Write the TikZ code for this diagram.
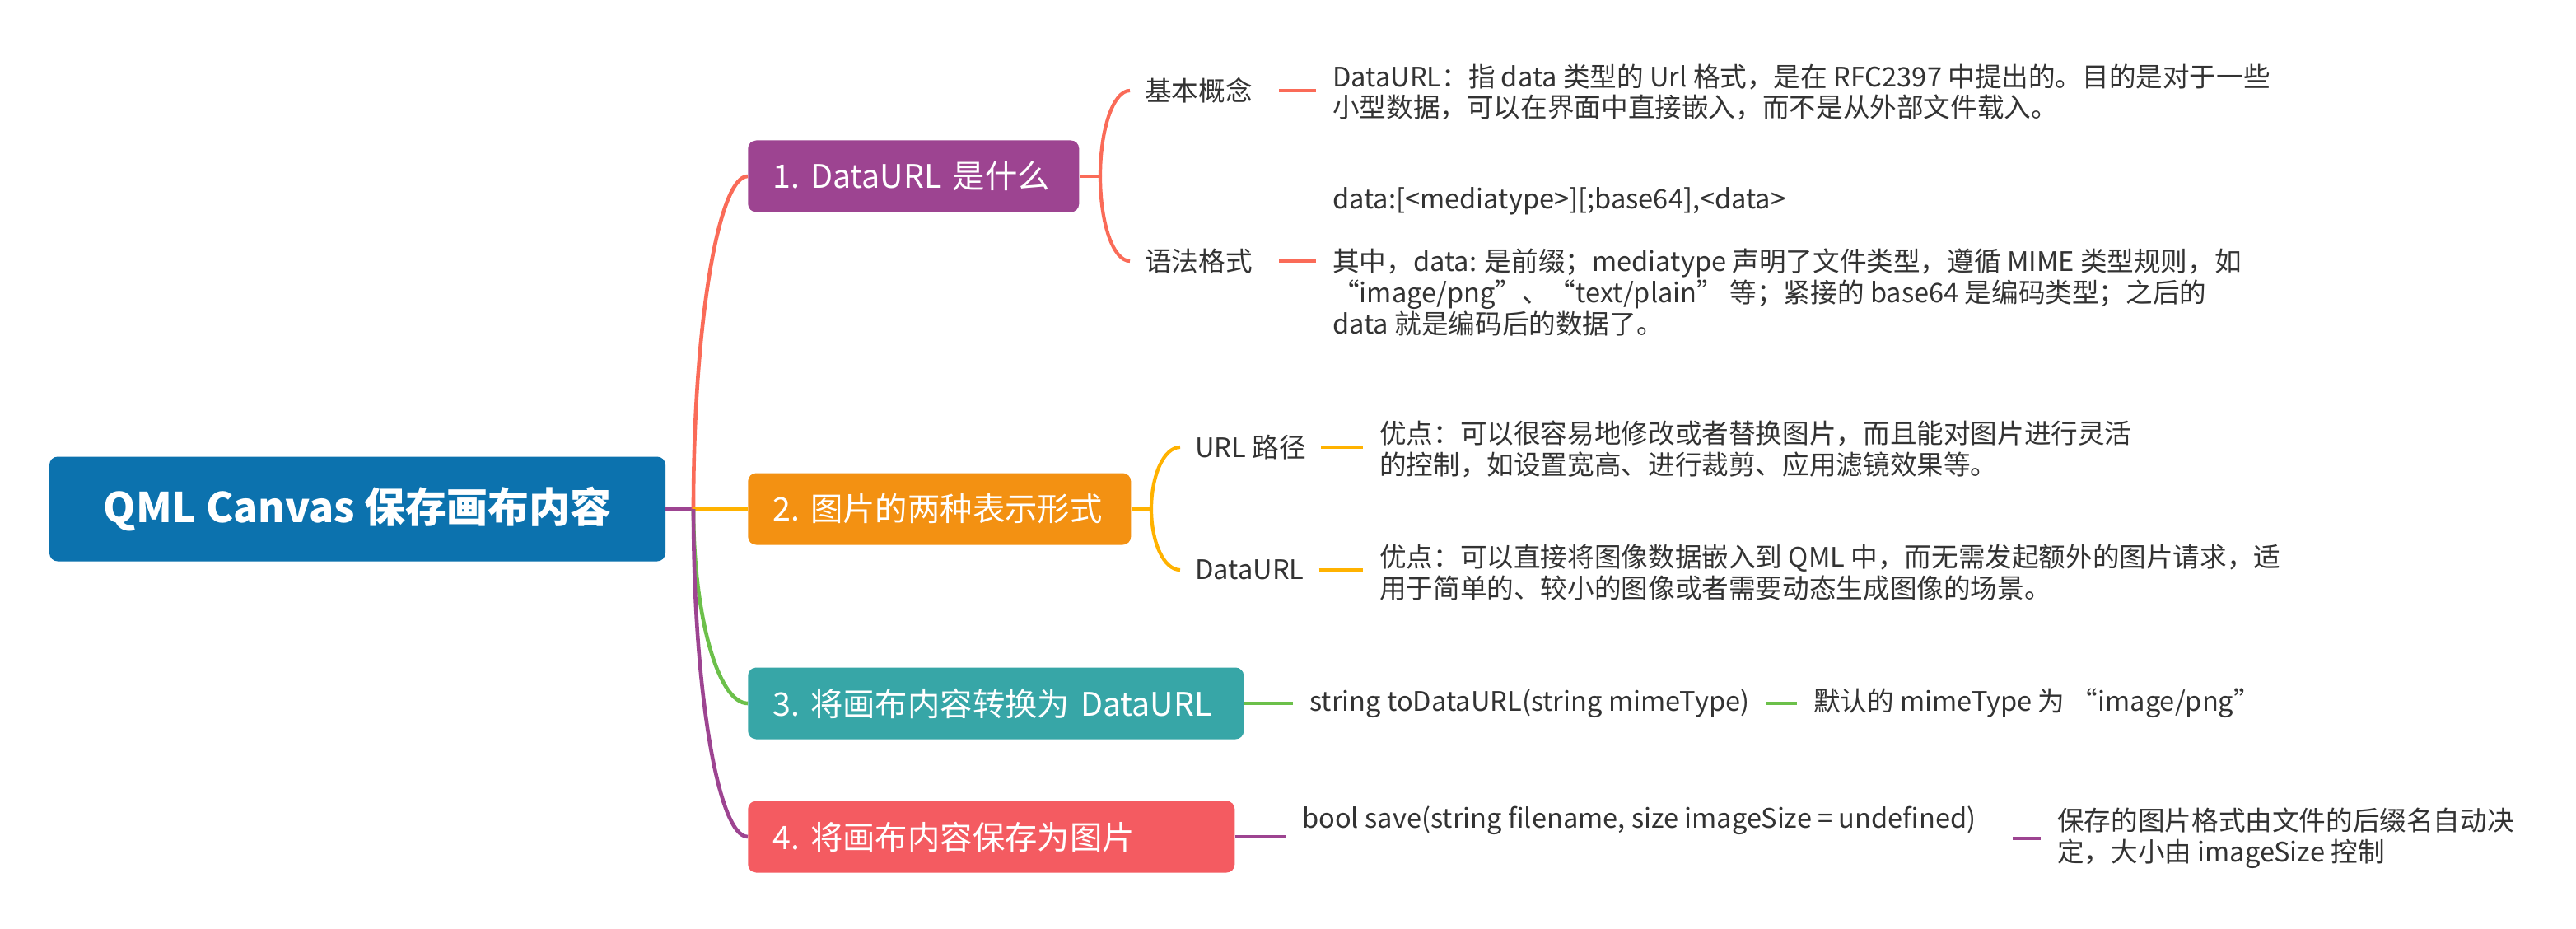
\documentclass[tikz,border=0pt]{standalone}
\usepackage{fontspec}
\setmainfont{Noto Sans CJK SC}
\usetikzlibrary{calc}

\definecolor{rootblue}{HTML}{0C72AE}
\definecolor{plum}{HTML}{9D4491}
\definecolor{amber}{HTML}{F39112}
\definecolor{tealbox}{HTML}{37A6A7}
\definecolor{rosered}{HTML}{F45B61}
\definecolor{coral}{HTML}{FA6B58}
\definecolor{gold}{HTML}{FFB200}
\definecolor{leafgreen}{HTML}{6CC04A}
\definecolor{ink}{HTML}{333333}

\begin{document}
\begin{tikzpicture}[
  x=0.5mm, y=-0.5mm,
  rootbox/.style={fill=rootblue, rounded corners=2.5mm, text=white, minimum width=187mm, minimum height=31.75mm, font=\fontsize{35.5}{42}\selectfont\bfseries},
  topic/.style={rounded corners=2.5mm, text=white, anchor=west, align=left, inner xsep=7.5mm, inner ysep=0pt, minimum height=21.75mm, font=\fontsize{28}{33}\selectfont},
  subtopic/.style={anchor=west, inner xsep=4.5mm, inner ysep=0pt, text=ink, font=\fontsize{23.2}{27}\selectfont},
  leaf/.style={subtopic, inner xsep=5mm, align=left},
  wire/.style={line width=1.15mm},
  twig/.style={line width=1.05mm}
]
\path[use as bounding box, fill=white] (0,0) rectangle (1564,564);

% root and the four main topics
\node[rootbox] (root) at (217,309) {QML Canvas 保存画布内容};
\node[topic, fill=plum, text width=85.5mm] (b1) at (454,107) {1.~DataURL~是什么};
\node[topic, fill=amber, text width=101.25mm] (b2) at (454,309) {2.~图片的两种表示形式};
\node[topic, fill=tealbox, text width=135.5mm] (b3) at (454,427) {3.~将画布内容转换为~DataURL};
\node[topic, fill=rosered, text width=132.75mm] (b4) at (454,508) {4.~将画布内容保存为图片};

\coordinate (hub) at (421,309);
\draw[wire, plum] (root.east) -- (hub);
\draw[wire, coral] (hub) .. controls +(0,-111) and +(-18,0) .. (b1.west);
\draw[wire, gold] (hub) -- (b2.west);
\draw[wire, leafgreen] (hub) .. controls +(0,65) and +(-18,0) .. (b3.west);
\draw[wire, plum] (hub) .. controls +(0,110) and +(-18,0) .. (b4.west);

% 1. DataURL
\coordinate (j1) at (668,107);
\node[subtopic] (k1a) at (686,55) {基本概念};
\node[subtopic] (k1b) at (686,158.5) {语法格式};
\node[leaf] (l1a) at (799,56) {DataURL：指 data 类型的 Url 格式，是在 RFC2397 中提出的。目的是对于一些\\小型数据，可以在界面中直接嵌入，而不是从外部文件载入。};
\node[leaf] (l1b) at (799,159) {data:[<mediatype>][;base64],<data>\\[9.5mm]其中，data: 是前缀；mediatype 声明了文件类型，遵循 MIME 类型规则，如\\“image/png”、“text/plain” 等；紧接的 base64 是编码类型；之后的\\data 就是编码后的数据了。};
\draw[twig, coral] (b1.east) -- (j1);
\draw[twig, coral] (j1) .. controls +(0,-29) and +(-10,0) .. (k1a.west);
\draw[twig, coral] (j1) .. controls +(0,29) and +(-10,0) .. (k1b.west);
\draw[twig, coral, shorten <=3.5mm] (k1a.east) -- (k1a.east -| l1a.west);
\draw[twig, coral, shorten <=3.5mm] (k1b.east) -- (k1b.east -| l1b.west);

% 2. two forms
\coordinate (j2) at (699,309);
\node[subtopic] (k2a) at (716.5,271.5) {URL 路径};
\node[subtopic] (k2b) at (716.5,346) {DataURL};
\node[leaf] (l2a) at (827.5,272.5) {优点：可以很容易地修改或者替换图片，而且能对图片进行灵活\\的控制，如设置宽高、进行裁剪、应用滤镜效果等。};
\node[leaf] (l2b) at (827.5,347.5) {优点：可以直接将图像数据嵌入到 QML 中，而无需发起额外的图片请求，适\\用于简单的、较小的图像或者需要动态生成图像的场景。};
\draw[twig, gold] (b2.east) -- (j2);
\draw[twig, gold] (j2) .. controls +(0,-20) and +(-10,0) .. (k2a.west);
\draw[twig, gold] (j2) .. controls +(0,20) and +(-10,0) .. (k2b.west);
\draw[twig, gold] (k2a.east) -- (k2a.east -| l2a.west);
\draw[twig, gold] (k2b.east) -- (k2b.east -| l2b.west);

% 3. toDataURL
\node[leaf] (c3) at (785,427) {string toDataURL(string mimeType)};
\node[leaf] (n3) at (1091,427) {默认的 mimeType 为 “image/png”};
\draw[twig, leafgreen] (b3.east) -- (c3.west);
\draw[twig, leafgreen] (c3.east) -- (n3.west);

% 4. save
\node[leaf] (c4) at (780.5,498) {bool save(string filename, size imageSize = undefined)};
\node[leaf] (n4) at (1239,509) {保存的图片格式由文件的后缀名自动决\\定，大小由 imageSize 控制};
\draw[twig, plum] (b4.east) -- (b4.east -| c4.west);
\draw[twig, plum, shorten <=6mm] (n4.west -| c4.east) -- (n4.west);
\end{tikzpicture}
\end{document}
